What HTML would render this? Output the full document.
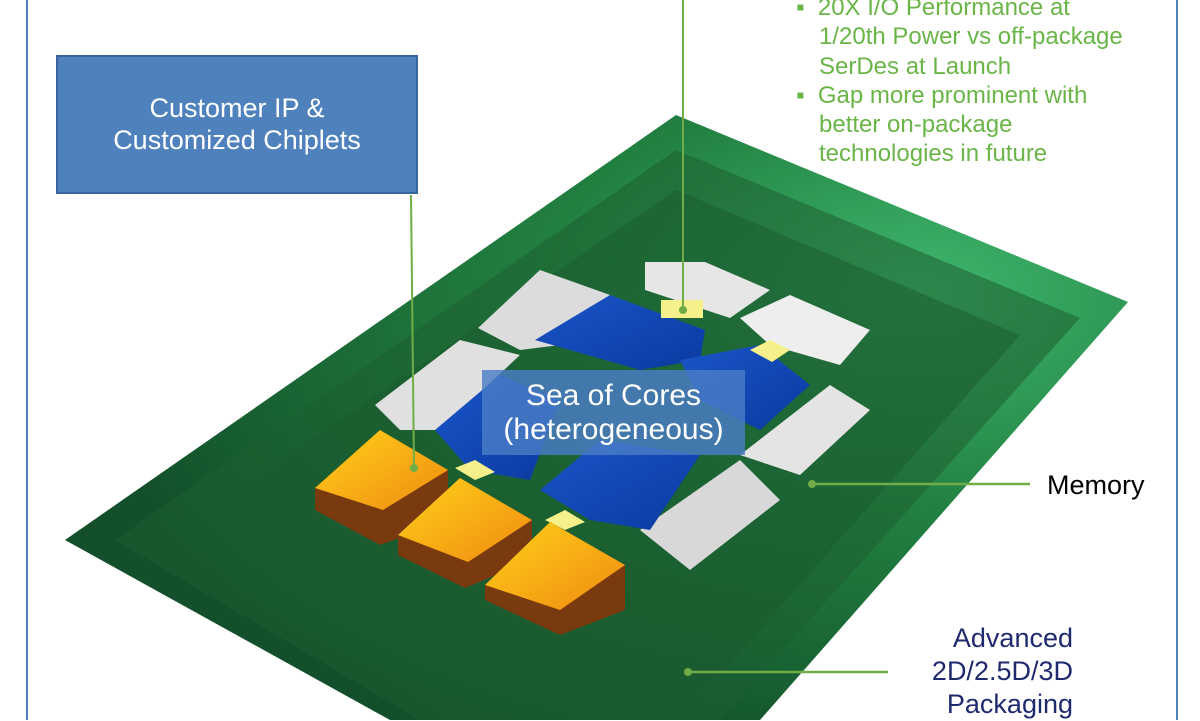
<!DOCTYPE html>
<html><head><style>
body{margin:0;width:1200px;height:720px;overflow:hidden;background:#fff;font-family:"Liberation Sans",sans-serif;position:relative}
.t{position:absolute;white-space:nowrap}
</style></head><body>
<svg width="1200" height="720" style="position:absolute;left:0;top:0">
<defs>
<radialGradient id="bg" cx="0.8" cy="0.3" r="0.8">
<stop offset="0" stop-color="#40b870"/><stop offset="0.45" stop-color="#217f40"/><stop offset="1" stop-color="#134f2a"/>
</radialGradient>
<linearGradient id="bl" x1="0" y1="0" x2="1" y2="1"><stop offset="0" stop-color="#1a55c8"/><stop offset="1" stop-color="#0a3aa0"/></linearGradient>
<linearGradient id="or" x1="0" y1="0" x2="1" y2="1"><stop offset="0" stop-color="#ffd21a"/><stop offset="1" stop-color="#f08a10"/></linearGradient>
</defs>
<line x1="27" y1="0" x2="27" y2="720" stroke="#4f81bd" stroke-width="2"/>
<line x1="1177" y1="0" x2="1177" y2="720" stroke="#4f81bd" stroke-width="2"/>
<polygon points="676,115 1128,302 760,720 390,720 65,540" fill="url(#bg)"/>
<polygon points="676,150 1080,318 720,720 420,720 115,540" fill="#1d5e32" opacity="0.55"/>
<polygon points="676,190 1020,335 680,720 455,720 180,530" fill="#1a5a2e" opacity="0.5"/>
<!-- white blocks -->
<polygon points="645,262 705,262 770,290 730,318 645,290" fill="#e6e6e6"/>
<polygon points="740,318 790,295 870,330 840,365 770,345" fill="#eeeeee"/>
<polygon points="478,328 540,270 610,295 560,345 520,350" fill="#dcdcdc"/>
<polygon points="375,405 460,340 520,355 440,430 400,430" fill="#e0e0e0"/>
<polygon points="740,455 830,385 870,410 800,475" fill="#e4e4e4"/>
<polygon points="640,530 740,460 780,500 690,570" fill="#d8d8d8"/>
<!-- blue -->
<polygon points="535,340 610,295 705,330 700,360 640,370" fill="url(#bl)"/>
<polygon points="680,360 760,345 810,385 760,430 700,400" fill="url(#bl)"/>
<polygon points="435,430 500,375 560,400 530,480 470,470" fill="url(#bl)"/>
<polygon points="540,490 600,440 700,455 650,530 590,520" fill="url(#bl)"/>
<!-- yellow pads -->
<rect x="661" y="300" width="42" height="18" fill="#f5f08a"/>
<polygon points="750,350 770,340 790,350 772,362" fill="#f5f08a"/>
<polygon points="455,468 475,460 495,472 475,480" fill="#f5f08a"/>
<polygon points="545,520 565,510 585,522 565,530" fill="#f5f08a"/>
<!-- orange stacks -->
<polygon points="315,488 380,430 448,470 448,520 380,545 315,510" fill="#7a3a10"/>
<polygon points="315,488 380,430 448,470 383,510" fill="url(#or)"/>
<polygon points="398,535 460,478 532,520 532,560 465,588 398,555" fill="#7a3a10"/>
<polygon points="398,535 460,478 532,520 468,562" fill="url(#or)"/>
<polygon points="485,585 550,522 625,565 625,610 560,635 485,600" fill="#7a3a10"/>
<polygon points="485,585 550,522 625,565 560,610" fill="url(#or)"/>
<!-- lines -->
<line x1="683" y1="0" x2="683" y2="310" stroke="#70ad47" stroke-width="2"/><circle cx="683" cy="310" r="4" fill="#70ad47"/>
<line x1="411" y1="195" x2="414" y2="468" stroke="#70ad47" stroke-width="2"/><circle cx="414" cy="468" r="4" fill="#70ad47"/>
<line x1="812" y1="484" x2="1030" y2="484" stroke="#70ad47" stroke-width="2.5"/><circle cx="812" cy="484" r="4" fill="#70ad47"/>
<line x1="688" y1="672" x2="888" y2="672" stroke="#70ad47" stroke-width="2.5"/><circle cx="688" cy="672" r="4" fill="#70ad47"/>
<rect x="482" y="370" width="263" height="85" fill="#4a7cc6" opacity="0.82"/>
<rect x="57" y="56" width="360" height="137" fill="#4f81bd" stroke="#3a64a0" stroke-width="2"/>
</svg>
<div class="t" style="left:57px;top:92px;width:360px;text-align:center;color:#fff;font-size:27px;line-height:32px">Customer IP &amp;<br>Customized Chiplets</div>
<div class="t" style="left:482px;top:379px;width:263px;text-align:center;color:#fff;font-size:30px;line-height:34px">Sea of Cores<br>(heterogeneous)</div>
<div class="t" style="left:796px;top:-7px;color:#6ab548;font-size:24px;line-height:29.3px">
<div>▪&nbsp;&nbsp;20X I/O Performance at</div><div style="padding-left:23px">1/20th Power vs off-package</div><div style="padding-left:23px">SerDes at Launch</div>
<div>▪&nbsp;&nbsp;Gap more prominent with</div><div style="padding-left:23px">better on-package</div><div style="padding-left:23px">technologies in future</div></div>
<div class="t" style="left:1047px;top:470px;font-size:27px;color:#000">Memory</div>
<div class="t" style="left:850px;top:622px;width:223px;text-align:right;font-size:27px;line-height:33px;color:#1f2a6e">Advanced<br>2D/2.5D/3D<br>Packaging</div>
</body></html>
